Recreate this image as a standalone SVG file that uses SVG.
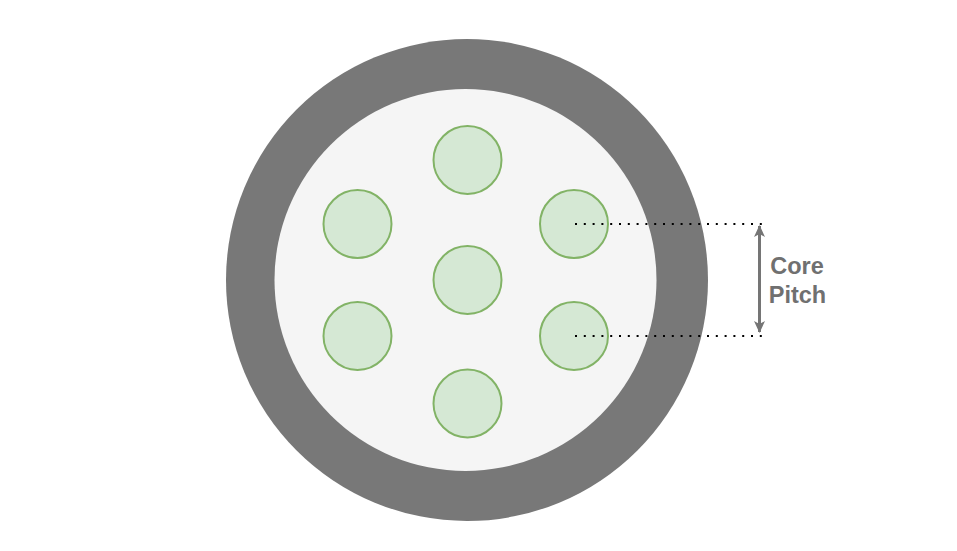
<svg xmlns="http://www.w3.org/2000/svg" width="957" height="551" viewBox="0 0 957 551">
  <style>
    .core { fill: #d5e8d4; stroke: #82b366; stroke-width: 2; }
    .dot { stroke: #000000; stroke-width: 2; stroke-dasharray: 2 6.8; fill: none; }
    .lbl { font-family: "Liberation Sans", Arial, sans-serif; font-weight: bold; font-size: 23.5px; fill: #707070; text-anchor: middle; }
  </style>
  <defs>
    <marker id="ah" viewBox="0 0 12 12" refX="11" refY="6" markerWidth="12" markerHeight="12" markerUnits="userSpaceOnUse" orient="auto-start-reverse">
      <path d="M0,0.5 L12,6 L0,11.5 L3,6 Z" fill="#757575"/>
    </marker>
  </defs>
  <rect width="957" height="551" fill="#ffffff"/>
  <g id="cladding">
    <circle cx="467" cy="280" r="241" fill="#787878"/>
    <circle cx="465.5" cy="280" r="191" fill="#f5f5f5"/>
  </g>
  <g id="core-top"><circle class="core" cx="467.5" cy="160" r="34"/></g>
  <g id="core-upper-left"><circle class="core" cx="357.5" cy="224" r="34"/></g>
  <g id="core-upper-right"><circle class="core" cx="574" cy="224" r="34"/></g>
  <g id="core-center"><circle class="core" cx="467.5" cy="280" r="34"/></g>
  <g id="core-lower-left"><circle class="core" cx="357.5" cy="336" r="34"/></g>
  <g id="core-lower-right"><circle class="core" cx="574" cy="336" r="34"/></g>
  <g id="core-bottom"><circle class="core" cx="467.5" cy="403.5" r="34"/></g>
  <g id="connectors">
    <line class="dot" x1="575" y1="224" x2="762" y2="224"/>
    <line class="dot" x1="575" y1="336" x2="762" y2="336"/>
    <line x1="759.5" y1="226" x2="759.5" y2="332" stroke="#757575" stroke-width="3" marker-start="url(#ah)" marker-end="url(#ah)"/>
  </g>
  <g id="label">
    <text class="lbl" x="797" y="274">Core</text>
    <text class="lbl" x="797.5" y="302.5">Pitch</text>
  </g>
</svg>
